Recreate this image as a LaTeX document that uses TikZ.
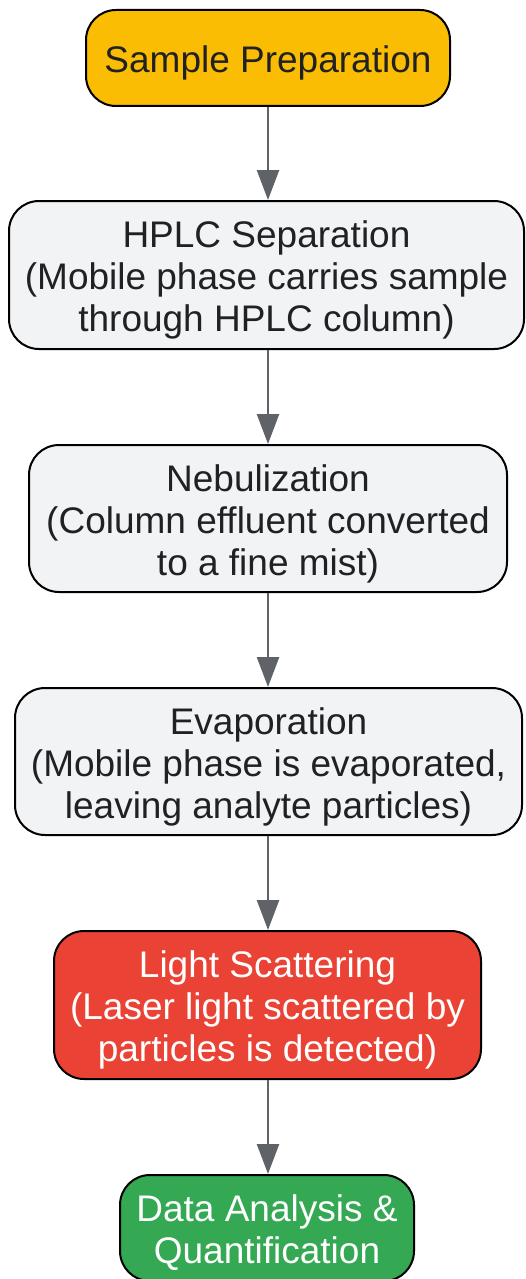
\documentclass[tikz,border=0pt]{standalone}
\usepackage{fontspec}
\setmainfont{Liberation Sans}
\usetikzlibrary{arrows.meta}
\definecolor{prepyellow}{HTML}{FBBC04}
\definecolor{stepgray}{HTML}{F1F3F4}
\definecolor{scatterred}{HTML}{EA4335}
\definecolor{resultgreen}{HTML}{34A853}
\definecolor{textdark}{HTML}{202124}
\definecolor{arrowgray}{HTML}{5F6368}
% lines of a box, set a little lower than TeX would centre them
\newcommand{\stagelines}[1]{\raisebox{-6.5pt}[\height][\depth]{\begin{tabular}{@{}c@{}}#1\end{tabular}}}
\tikzset{
  stage/.style={draw=black, line width=2pt, rounded corners=30pt, align=center,
    inner sep=0pt, text=textdark, font=\fontsize{37}{42}\selectfont},
  flow/.style={draw=arrowgray, line width=2.5pt, -{Triangle[length=30pt,width=22pt]}}
}

\begin{document}
\begin{tikzpicture}[x=1pt,y=-1pt]
                  \useasboundingbox (0,0) rectangle (525,1279);
                  \node [stage, fill=prepyellow, minimum width=364pt, minimum height=96pt] (prep) at (268,58) {\stagelines{Sample Preparation}};
                  \node [stage, fill=stepgray, minimum width=515pt, minimum height=148pt] (hplc) at (266.5,275) {\stagelines{HPLC Separation\\(Mobile phase carries sample\\through HPLC column)}};
                  \node [stage, fill=stepgray, minimum width=478pt, minimum height=147pt] (nebul) at (268,518.5) {\stagelines{Nebulization\\(Column effluent converted\\to a fine mist)}};
                  \node [stage, fill=stepgray, minimum width=507pt, minimum height=147pt] (evap) at (268.5,761.5) {\stagelines{Evaporation\\(Mobile phase is evaporated,\\leaving analyte particles)}};
                  \node [stage, fill=scatterred, text=white, minimum width=427pt, minimum height=148pt] (scatter) at (267.5,1005) {\stagelines{Light Scattering\\(Laser light scattered by\\particles is detected)}};
                  \node [stage, fill=resultgreen, text=white, minimum width=294pt, minimum height=106pt] (data) at (267,1228) {\stagelines{Data Analysis \&\\Quantification}};
                  \draw [flow] (prep.south) -- (prep.south |- hplc.north);
                  \draw [flow] (prep.south |- hplc.south) -- (prep.south |- nebul.north);
                  \draw [flow] (prep.south |- nebul.south) -- (prep.south |- evap.north);
                  \draw [flow] (prep.south |- evap.south) -- (prep.south |- scatter.north);
                  \draw [flow] (prep.south |- scatter.south) -- (prep.south |- data.north);
              \end{tikzpicture}
\end{document}
